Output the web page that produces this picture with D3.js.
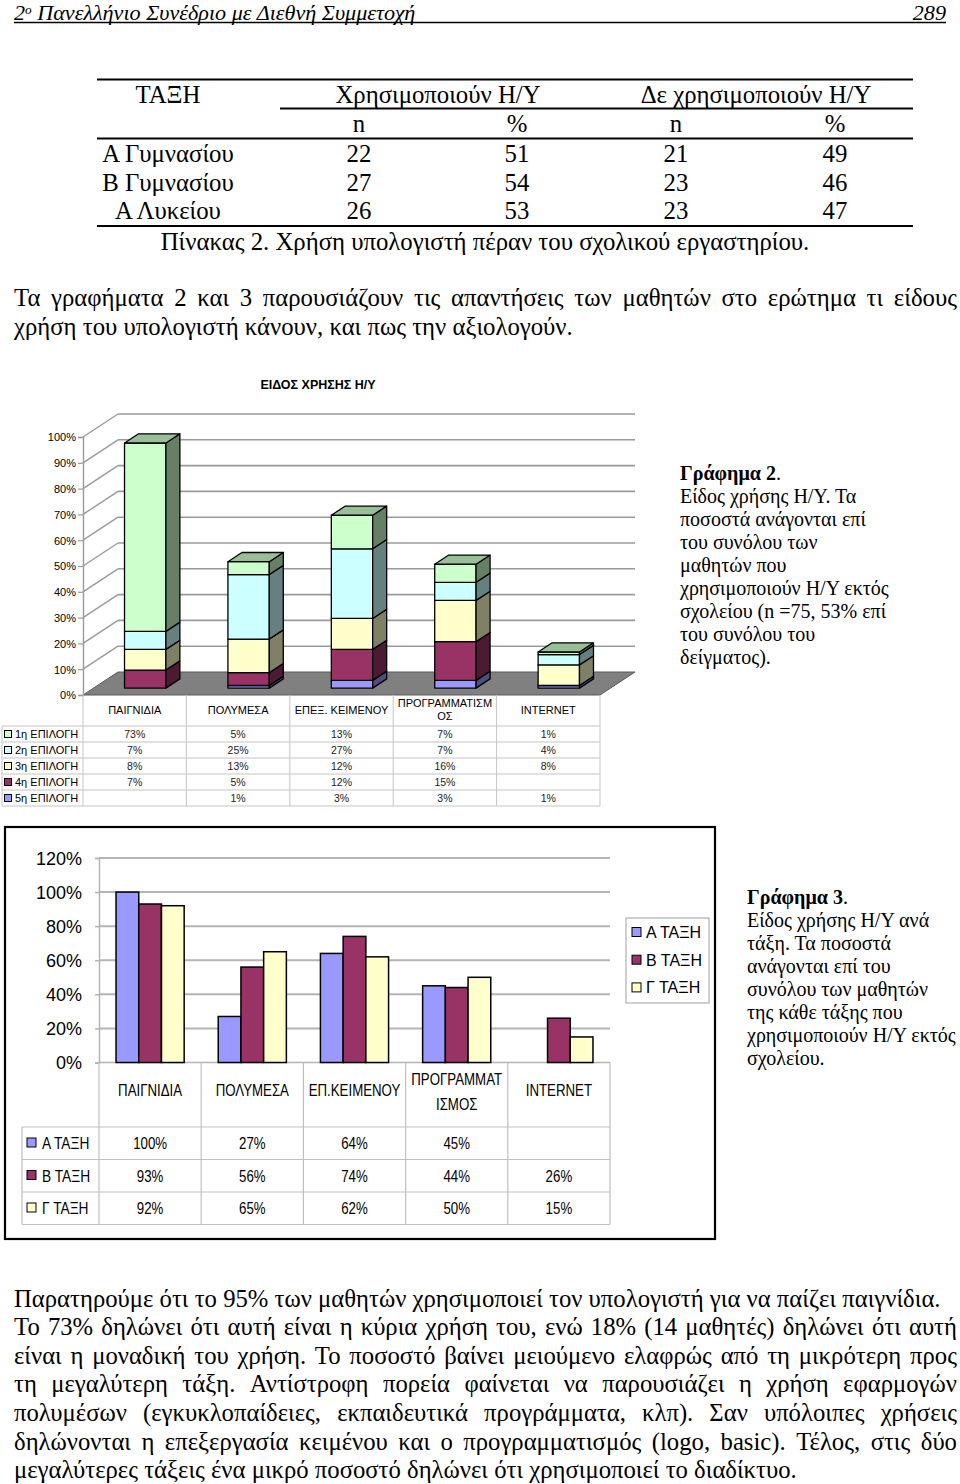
<!DOCTYPE html>
<html><head><meta charset="utf-8">
<script src="https://cdn.jsdelivr.net/npm/d3@7"></script>
<style>body{margin:0;background:#fff}svg{display:block}</style>
</head><body>
<svg id="page" width="960" height="1484"></svg>
<script>
// ================= DATA =================
// Table 2
const tableClasses = ["Α Γυμνασίου", "Β Γυμνασίου", "Α Λυκείου"];
const useN = [22, 27, 26];
const usePct = [51, 54, 53];
const noUseN = [21, 23, 23];
const noUsePct = [49, 46, 47];

// Graph 2 (3D stacked bars)
const usageCategories = ["ΠΑΙΓΝΙΔΙΑ", "ΠΟΛΥΜΕΣΑ", "ΕΠΕΞ. ΚΕΙΜΕΝΟΥ", "ΠΡΟΓΡΑΜΜΑΤΙΣΜ|ΟΣ", "INTERNET"];
const choiceNames = ["1η ΕΠΙΛΟΓΗ", "2η ΕΠΙΛΟΓΗ", "3η ΕΠΙΛΟΓΗ", "4η ΕΠΙΛΟΓΗ", "5η ΕΠΙΛΟΓΗ"];
const choice1 = [73, 5, 13, 7, 1];
const choice2 = [7, 25, 27, 7, 4];
const choice3 = [8, 13, 12, 16, 8];
const choice4 = [7, 5, 12, 15, null];
const choice5 = [null, 1, 3, 3, 1];
const choiceColors = ["#CCFFCC", "#CCFFFF", "#FFFFCC", "#993366", "#9999FF"];
const ticks2 = [0, 10, 20, 30, 40, 50, 60, 70, 80, 90, 100];

// Graph 3 (clustered bars)
const gradeCategories = ["ΠΑΙΓΝΙΔΙΑ", "ΠΟΛΥΜΕΣΑ", "ΕΠ.ΚΕΙΜΕΝΟΥ", "ΠΡΟΓΡΑΜΜΑΤ|ΙΣΜΟΣ", "INTERNET"];
const gradeNames = ["Α ΤΑΞΗ", "Β ΤΑΞΗ", "Γ ΤΑΞΗ"];
const gradeA = [100, 27, 64, 45, null];
const gradeB = [93, 56, 74, 44, 26];
const gradeC = [92, 65, 62, 50, 15];
const gradeColors = ["#9999FF", "#993366", "#FFFFCC"];
const ticks3 = [0, 20, 40, 60, 80, 100, 120];

// ================= HELPERS =================
const svg = d3.select("#page");
const SERIF = '"Liberation Serif","Times New Roman",serif';
const SANS = '"Liberation Sans",Arial,sans-serif';

function applyFont(t, o) {
  return t.attr("font-family", o.family || SERIF)
    .attr("font-size", o.size || 16)
    .attr("font-weight", o.weight || "normal")
    .attr("font-style", o.style || "normal")
    .attr("fill", o.fill || "#000");
}
function measure(str, o) {
  const t = applyFont(svg.append("text"), o).text(str);
  const w = t.node().getComputedTextLength();
  t.remove();
  return w;
}
function line(x, y, str, o) {
  const sx = o.sx || 1;
  const t = applyFont(svg.append("text"), o)
    .attr("transform", `translate(${x},${y}) scale(${sx},1)`);
  if (o.justify) {
    const words = str.split(" ");
    const ws = words.map(w => measure(w, o));
    const gap = (o.justify / sx - d3.sum(ws)) / (words.length - 1);
    let cx = 0;
    words.forEach((w, i) => { t.append("tspan").attr("x", cx).attr("y", 0).text(w); cx += ws[i] + gap; });
  } else {
    t.attr("text-anchor", o.anchor || "start").text(str);
  }
  return t;
}
function hline(x1, x2, y, c, w) {
  svg.append("line").attr("x1", x1).attr("x2", x2).attr("y1", y).attr("y2", y)
    .attr("stroke", c).attr("stroke-width", w);
}
function vline(x, y1, y2, c, w) {
  svg.append("line").attr("x1", x).attr("x2", x).attr("y1", y1).attr("y2", y2)
    .attr("stroke", c).attr("stroke-width", w);
}
function shade(c, k) {
  const r = d3.rgb(c);
  return d3.rgb(r.r * k, r.g * k, r.b * k).formatHex();
}

// ================= PAGE HEADER =================
{
  const o = { size: 20, style: "italic" };
  const full = "2ο Πανελλήνιο Συνέδριο με Διεθνή Συμμετοχή";
  const sx = 406 / measure(full, o);
  const t = applyFont(svg.append("text"), o).attr("transform", `translate(14,19.5) scale(${sx},1)`);
  t.append("tspan").text("2");
  t.append("tspan").attr("font-size", 12).attr("dy", -6).text("ο");
  t.append("tspan").attr("dy", 6).text(" Πανελλήνιο Συνέδριο με Διεθνή Συμμετοχή");
  line(946, 19.5, "289", { size: 20, style: "italic", anchor: "end", sx: sx });
  hline(14, 946, 22.5, "#000", 1.3);
}

// ================= TABLE 2 =================
{
  const o = { size: 25 };
  const cap = "Πίνακας 2. Χρήση υπολογιστή πέραν του σχολικού εργαστηρίου.";
  const sx = 649 / measure(cap, o);
  const T = Object.assign({ anchor: "middle", sx: sx }, o);
  hline(97, 913, 79.5, "#000", 2);
  line(168, 103, "ΤΑΞΗ", T);
  line(438, 103, "Χρησιμοποιούν Η/Υ", T);
  line(756, 103, "Δε χρησιμοποιούν Η/Υ", T);
  hline(280, 913, 108.5, "#000", 1.8);
  const colX = [359, 517, 676, 835];
  ["n", "%", "n", "%"].forEach((s, i) => line(colX[i], 132, s, T));
  hline(97, 913, 138.5, "#000", 2);
  const rowY = [162, 190.5, 219];
  tableClasses.forEach((c, i) => {
    line(168, rowY[i], c, T);
    [useN[i], usePct[i], noUseN[i], noUsePct[i]].forEach((v, j) => line(colX[j], rowY[i], String(v), T));
  });
  hline(97, 913, 226, "#000", 2);
  line(485, 250, cap, T);
}

// ================= PARAGRAPH 1 =================
{
  const o = { size: 25 };
  const l2 = "χρήση του υπολογιστή κάνουν, και πως την αξιολογούν.";
  const sx = 559 / measure(l2, o);
  line(14, 306, "Τα γραφήματα 2 και 3 παρουσιάζουν τις απαντήσεις των μαθητών στο ερώτημα τι είδους",
    Object.assign({ sx: sx, justify: 943 }, o));
  line(14, 334.5, l2, Object.assign({ sx: sx }, o));
}

// ================= GRAPH 2 (3D stacked) =================
{
  const x0 = 83, x1 = 600, DX = 35, DY = 23;
  const y = d3.scaleLinear().domain([0, 100]).range([695, 437]);
  const band = d3.scaleBand().domain(usageCategories).range([x0, x1]).paddingInner(0.6).paddingOuter(0.3);
  const slot = d3.scaleBand().domain(usageCategories).range([x0, x1]);
  const axisC = "#9a9a9a";

  // title
  line(318, 389, "ΕΙΔΟΣ ΧΡΗΣΗΣ Η/Υ", { family: SANS, size: 12.5, weight: "bold", anchor: "middle" });

  // floor
  svg.append("polygon")
    .attr("points", [[x0, y(0)], [x1, y(0)], [x1 + DX, y(0) - DY], [x0 + DX, y(0) - DY]].map(p => p.join(",")).join(" "))
    .attr("fill", "#808080").attr("stroke", "#5a5a5a").attr("stroke-width", 1);

  // walls gridlines
  const g = svg.append("g");
  ticks2.forEach(v => {
    if (v > 0) g.append("line").attr("x1", x0 + DX).attr("x2", x1 + DX).attr("y1", y(v) - DY).attr("y2", y(v) - DY)
      .attr("stroke", axisC).attr("stroke-width", 1.6);
    if (v > 0) g.append("line").attr("x1", x0).attr("x2", x0 + DX).attr("y1", y(v)).attr("y2", y(v) - DY)
      .attr("stroke", axisC).attr("stroke-width", 1.4);
  });

  // axis
  const ax = svg.append("g").attr("transform", `translate(${x0},0)`)
    .call(d3.axisLeft(y).tickValues(ticks2).tickFormat(d => d + "%").tickSize(5).tickPadding(2));
  ax.select(".domain").attr("stroke", axisC).attr("stroke-width", 1.4);
  ax.selectAll(".tick line").attr("stroke", axisC).attr("stroke-width", 1.2);
  ax.selectAll("text").attr("font-family", SANS).attr("font-size", 11).attr("fill", "#000").attr("dy", "0.35em");

  // bars
  const series = [choice5, choice4, choice3, choice2, choice1];
  const cols = [choiceColors[4], choiceColors[3], choiceColors[2], choiceColors[1], choiceColors[0]];
  const z0 = 0.3, z1 = 0.7;
  const bdx = (z1 - z0) * DX, bdy = (z1 - z0) * DY;
  const bars = svg.append("g").attr("stroke", "#000").attr("stroke-width", 1.3).attr("stroke-linejoin", "round");
  usageCategories.forEach((cat, i) => {
    let base = 0;
    const xl = band(cat) + z0 * DX, xr = xl + band.bandwidth();
    const segs = [];
    series.forEach((s, k) => { if (s[i]) { segs.push({ b: base, t: base + s[i], c: cols[k] }); base += s[i]; } });
    segs.forEach((sg, k) => {
      const yb = y(sg.b) - z0 * DY, yt = y(sg.t) - z0 * DY;
      bars.append("rect").attr("x", xl).attr("y", yt).attr("width", xr - xl).attr("height", yb - yt).attr("fill", sg.c);
      bars.append("polygon").attr("points", [[xr, yb], [xr + bdx, yb - bdy], [xr + bdx, yt - bdy], [xr, yt]].map(p => p.join(",")).join(" "))
        .attr("fill", shade(sg.c, 0.5));
      if (k === segs.length - 1) {
        bars.append("polygon").attr("points", [[xl, yt], [xr, yt], [xr + bdx, yt - bdy], [xl + bdx, yt - bdy]].map(p => p.join(",")).join(" "))
          .attr("fill", shade(sg.c, 0.75));
      }
    });
  });

  // data table
  const gc = "#c4c4c4";
  const rowTop = 726, rowH = 16, nRows = choiceNames.length;
  for (let r = 0; r <= nRows; r++) hline(2, x1, rowTop + r * rowH, gc, 1);
  vline(2, rowTop, rowTop + nRows * rowH, gc, 1);
  vline(x0, y(0), rowTop + nRows * rowH, gc, 1);
  usageCategories.forEach(c => vline(slot(c) + slot.bandwidth(), y(0), rowTop + nRows * rowH, gc, 1));
  usageCategories.forEach(c => {
    const cx = slot(c) + slot.bandwidth() / 2;
    const parts = c.split("|");
    if (parts.length === 1) line(cx, 714, parts[0], { family: SANS, size: 11, anchor: "middle" });
    else parts.forEach((p, j) => line(cx, 707 + j * 13, p, { family: SANS, size: 11, anchor: "middle" }));
  });
  const all = [choice1, choice2, choice3, choice4, choice5];
  choiceNames.forEach((n, r) => {
    const top = rowTop + r * rowH;
    svg.append("rect").attr("x", 4.5).attr("y", top + 4.5).attr("width", 7).attr("height", 7)
      .attr("fill", choiceColors[r]).attr("stroke", "#000").attr("stroke-width", 1);
    line(15, top + 12, n, { family: SANS, size: 11 });
    usageCategories.forEach((c, i) => {
      const v = all[r][i];
      if (v != null) line(slot(c) + slot.bandwidth() / 2, top + 12, v + "%", { family: SANS, size: 10.5, anchor: "middle", fill: "#222" });
    });
  });

  // caption
  const cy = [480, 503, 526, 549, 572, 595, 618, 641, 664];
  const capLines = ["Είδος χρήσης Η/Υ. Τα", "ποσοστά ανάγονται επί", "του συνόλου των", "μαθητών που",
    "χρησιμοποιούν Η/Υ εκτός", "σχολείου (n =75, 53% επί", "του συνόλου του", "δείγματος)."];
  const t = applyFont(svg.append("text"), { size: 20 }).attr("x", 680).attr("y", cy[0]);
  t.append("tspan").attr("font-weight", "bold").text("Γράφημα 2");
  t.append("tspan").text(".");
  capLines.forEach((s, i) => line(680, cy[i + 1], s, { size: 20 }));
}

// ================= GRAPH 3 (clustered) =================
{
  svg.append("rect").attr("x", 5).attr("y", 827).attr("width", 710).attr("height", 412)
    .attr("fill", "none").attr("stroke", "#000").attr("stroke-width", 2.2);
  const x0 = 99, x1 = 610;
  const y = d3.scaleLinear().domain([0, 120]).range([1062.5, 858]);
  const xb = d3.scaleBand().domain(gradeCategories).range([x0, x1]).paddingInner(1 / 3).paddingOuter(1 / 6);
  const xs = d3.scaleBand().domain(gradeNames).range([0, xb.bandwidth()]);
  const slot = d3.scaleBand().domain(gradeCategories).range([x0, x1]);
  const gcol = "#b4b4b4";

  ticks3.forEach(v => { if (v > 0) hline(x0, x1, y(v), gcol, 2); });
  const ax = svg.append("g").attr("transform", `translate(${x0},0)`)
    .call(d3.axisLeft(y).tickValues(ticks3).tickFormat(d => d + "%").tickSize(4).tickPadding(13));
  ax.select(".domain").attr("stroke", gcol).attr("stroke-width", 1.5);
  ax.selectAll(".tick line").attr("stroke", gcol).attr("stroke-width", 1.5);
  ax.selectAll("text").attr("font-family", SANS).attr("font-size", 18).attr("fill", "#000").attr("dy", "0.35em");
  hline(x0, x1, y(0), gcol, 1.5);

  const vals = [gradeA, gradeB, gradeC];
  const bg = svg.append("g").attr("stroke", "#000").attr("stroke-width", 1.5);
  gradeCategories.forEach((c, i) => {
    gradeNames.forEach((gname, k) => {
      const v = vals[k][i];
      if (v == null) return;
      bg.append("rect").attr("x", xb(c) + xs(gname)).attr("y", y(v)).attr("width", xs.bandwidth())
        .attr("height", y(0) - y(v)).attr("fill", gradeColors[k]);
    });
  });

  // legend
  svg.append("rect").attr("x", 626).attr("y", 918).attr("width", 83).attr("height", 85)
    .attr("fill", "#fff").attr("stroke", "#a0a0a0").attr("stroke-width", 1);
  gradeNames.forEach((n, k) => {
    const cy = 932 + k * 27.7;
    svg.append("rect").attr("x", 632).attr("y", cy - 4.5).attr("width", 9).attr("height", 9)
      .attr("fill", gradeColors[k]).attr("stroke", "#000").attr("stroke-width", 1);
    line(646, cy + 6, n, { family: SANS, size: 16 });
  });

  // data table
  const tc = "#c0c0c0";
  const rowTop = 1127, rowH = 32.5, n = gradeNames.length;
  const bottom = rowTop + n * rowH;
  for (let r = 0; r <= n; r++) hline(22, x1, rowTop + r * rowH, tc, 1.2);
  vline(22, rowTop, bottom, tc, 1.2);
  vline(x0, y(0), bottom, tc, 1.2);
  gradeCategories.forEach(c => vline(slot(c) + slot.bandwidth(), y(0), bottom, tc, 1.2));
  const TS = { family: SANS, size: 16, anchor: "middle", sx: 0.83 };
  gradeCategories.forEach(c => {
    const cx = slot(c) + slot.bandwidth() / 2;
    const parts = c.split("|");
    if (parts.length === 1) line(cx, 1096, parts[0], TS);
    else parts.forEach((p, j) => line(cx, 1085 + j * 25, p, TS));
  });
  gradeNames.forEach((g, r) => {
    const cy = rowTop + r * rowH + 16;
    svg.append("rect").attr("x", 27).attr("y", cy - 5).attr("width", 9).attr("height", 9)
      .attr("fill", gradeColors[r]).attr("stroke", "#000").attr("stroke-width", 1);
    line(42, cy + 6, g, { family: SANS, size: 16, sx: 0.86 });
    gradeCategories.forEach((c, i) => {
      const v = vals[r][i];
      if (v != null) line(slot(c) + slot.bandwidth() / 2, cy + 6, v + "%", TS);
    });
  });

  // caption
  const cy = [904, 927, 950, 973, 996, 1019, 1042, 1065];
  const capLines = ["Είδος χρήσης Η/Υ ανά", "τάξη. Τα ποσοστά", "ανάγονται επί του", "συνόλου των μαθητών",
    "της κάθε τάξης που", "χρησιμοποιούν Η/Υ εκτός", "σχολείου."];
  const t = applyFont(svg.append("text"), { size: 20 }).attr("x", 747).attr("y", cy[0]);
  t.append("tspan").attr("font-weight", "bold").text("Γράφημα 3");
  t.append("tspan").text(".");
  capLines.forEach((s, i) => line(747, cy[i + 1], s, { size: 20 }));
}

// ================= FINAL PARAGRAPH =================
{
  const o = { size: 25 };
  const lines = [
    "Παρατηρούμε ότι το 95% των μαθητών χρησιμοποιεί τον υπολογιστή για να παίζει παιγνίδια.",
    "Το 73% δηλώνει ότι αυτή είναι η κύρια χρήση του, ενώ 18% (14 μαθητές) δηλώνει ότι αυτή",
    "είναι η μοναδική του χρήση. Το ποσοστό βαίνει μειούμενο ελαφρώς από τη μικρότερη προς",
    "τη μεγαλύτερη τάξη. Αντίστροφη πορεία φαίνεται να παρουσιάζει η χρήση εφαρμογών",
    "πολυμέσων (εγκυκλοπαίδειες, εκπαιδευτικά προγράμματα, κλπ). Σαν υπόλοιπες χρήσεις",
    "δηλώνονται η επεξεργασία κειμένου και ο προγραμματισμός (logo, basic). Τέλος, στις δύο",
    "μεγαλύτερες τάξεις ένα μικρό ποσοστό δηλώνει ότι χρησιμοποιεί το διαδίκτυο."
  ];
  const sxA = 927 / measure(lines[0], o);
  const sxB = 783 / measure(lines[6], o);
  const sx = (sxA + sxB) / 2;
  const base = 1306.5, lh = 28.6;
  lines.forEach((s, i) => {
    const y = base + i * lh;
    if (i === 0) line(14, y, s, Object.assign({ sx: sxA }, o));
    else if (i === 6) line(14, y, s, Object.assign({ sx: sxB }, o));
    else line(14, y, s, Object.assign({ sx: sx, justify: 943 }, o));
  });
}
</script>
</body></html>
